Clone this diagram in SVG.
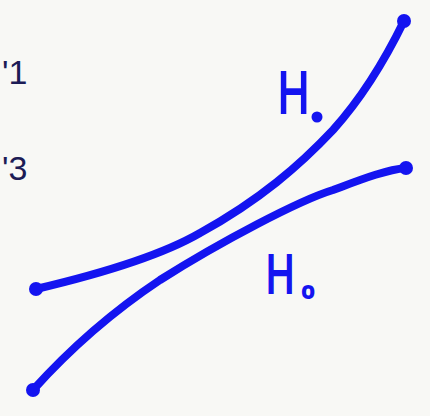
<svg xmlns="http://www.w3.org/2000/svg" width="430" height="416" viewBox="0 0 430 416">
<style>
.curve{fill:none;stroke:#1414f0;stroke-width:8;stroke-linecap:round;stroke-linejoin:round}
.end{fill:#1414f0}
.lbl{font-family:"Liberation Sans",Arial,sans-serif;fill:#1414f0;stroke:#1414f0;stroke-width:2}
.note{font-family:"Liberation Sans",Arial,sans-serif;fill:#1c1c55;font-size:34px}
</style>
<rect width="430" height="416" fill="#f8f8f5"/>
<g id="margin-notes">
<text class="note" x="2" y="84">'1</text>
<text class="note" x="2" y="180">'3</text>
</g>
<g id="connectors">
<path class="curve" d="M36,289 C70,281 150,262 200,233 C260,200 300,165 333,130 C360,100 385,60 404,21"/>
<path class="curve" d="M33,390 C60,360 100,320 160,280 C220,242 300,200 333,190 C360,180 385,170 406,168"/>
</g>
<g id="node-H1">
<circle class="end" cx="36" cy="289" r="7"/>
<circle class="end" cx="404" cy="21" r="7"/>
<text class="lbl" transform="translate(278,113) scale(0.72,1)" font-size="60">H</text>
<circle class="end" cx="317" cy="117" r="5.5"/>
</g>
<g id="node-H0">
<circle class="end" cx="33" cy="390" r="7"/>
<circle class="end" cx="406" cy="168" r="7"/>
<text class="lbl" transform="translate(266,293) scale(0.7,1)" font-size="56">H</text>
<text class="lbl" x="302" y="298" font-size="22">o</text>
</g>
</svg>
